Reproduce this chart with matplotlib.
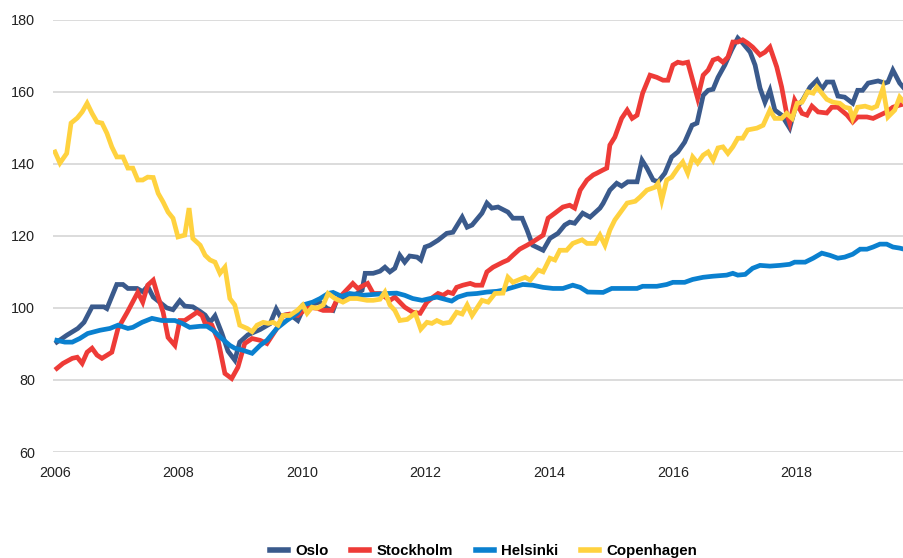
import matplotlib
matplotlib.use("Agg")
import matplotlib.pyplot as plt

plt.rcParams['font.family'] = ['Liberation Sans', 'DejaVu Sans']

# index values (decimal year, value)
oslo_t = [2006.03, 2006.19, 2006.37, 2006.47, 2006.60, 2006.79, 2006.84, 2007.00, 2007.10, 2007.18,
          2007.33, 2007.42, 2007.50, 2007.59, 2007.70, 2007.81, 2007.91, 2008.02, 2008.10, 2008.23,
          2008.35, 2008.43, 2008.51, 2008.59, 2008.70, 2008.80, 2008.91, 2008.99, 2009.12, 2009.32,
          2009.48, 2009.58, 2009.64, 2009.80, 2009.93, 2010.01, 2010.08, 2010.29, 2010.40, 2010.50,
          2010.56, 2010.72, 2010.89, 2010.97, 2011.02, 2011.15, 2011.26, 2011.34, 2011.42, 2011.50,
          2011.58, 2011.66, 2011.74, 2011.86, 2011.92, 2011.99, 2012.07, 2012.20, 2012.34, 2012.44,
          2012.59, 2012.67, 2012.75, 2012.91, 2012.99, 2013.07, 2013.17, 2013.33, 2013.41, 2013.56,
          2013.64, 2013.73, 2013.90, 2014.01, 2014.14, 2014.25, 2014.33, 2014.41, 2014.54, 2014.66,
          2014.82, 2014.87, 2014.98, 2015.09, 2015.17, 2015.27, 2015.42, 2015.50, 2015.58, 2015.68,
          2015.76, 2015.87, 2015.98, 2016.08, 2016.19, 2016.31, 2016.39, 2016.49, 2016.57, 2016.65,
          2016.73, 2016.84, 2016.95, 2017.05, 2017.13, 2017.25, 2017.33, 2017.41, 2017.49, 2017.57,
          2017.65, 2017.76, 2017.89, 2017.97, 2018.10, 2018.22, 2018.33, 2018.41, 2018.49, 2018.59,
          2018.67, 2018.78, 2018.91, 2018.99, 2019.07, 2019.16, 2019.32, 2019.43, 2019.48, 2019.56,
          2019.67, 2019.74]
oslo_v = [90.5, 92.4, 94.3, 96.0, 100.3, 100.3, 99.8, 106.5, 106.5, 105.4,
          105.4, 104.5, 106.0, 103.0, 101.5, 100.0, 99.5, 102.0, 100.5, 100.3,
          99.0, 98.0, 96.0, 97.8, 93.0, 88.0, 85.5, 90.5, 92.5, 94.0,
          95.6, 99.7, 97.8, 98.2, 96.5, 99.5, 100.8, 101.6, 99.9, 99.3,
          102.1, 103.0, 104.0, 104.9, 109.6, 109.6, 110.2, 111.3, 110.0, 111.0,
          114.6, 112.7, 114.4, 114.1, 113.3, 116.9, 117.4, 118.8, 120.7, 121.0,
          125.2, 122.4, 123.0, 126.3, 129.1, 127.7, 128.0, 126.6, 124.9, 124.9,
          121.6, 117.4, 116.0, 119.3, 120.7, 123.0, 123.8, 123.5, 126.3, 125.2,
          127.7, 129.0, 132.7, 134.6, 133.8, 135.0, 135.0, 141.0, 138.8, 135.5,
          135.0, 137.4, 141.9, 143.3, 146.0, 150.7, 151.3, 159.0, 160.4, 160.7,
          164.0, 167.4, 171.6, 174.9, 173.5, 171.0, 167.4, 161.0, 157.1, 160.4,
          154.9, 153.5, 149.9, 154.9, 157.7, 161.3, 163.2, 160.7, 162.7, 162.7,
          158.8, 158.5, 156.8, 160.4, 160.4, 162.4, 163.0, 162.4, 162.7, 166.0,
          162.4, 161.0]

stockholm_t = [2006.03, 2006.13, 2006.28, 2006.36, 2006.44, 2006.52, 2006.60, 2006.68, 2006.76, 2006.92,
               2007.02, 2007.17, 2007.34, 2007.42, 2007.50, 2007.59, 2007.67, 2007.75, 2007.83, 2007.94,
               2008.02, 2008.10, 2008.22, 2008.30, 2008.38, 2008.43, 2008.54, 2008.64, 2008.75, 2008.86,
               2008.96, 2009.07, 2009.19, 2009.32, 2009.43, 2009.59, 2009.69, 2009.80, 2009.93, 2010.09,
               2010.24, 2010.34, 2010.48, 2010.56, 2010.82, 2010.90, 2011.06, 2011.15, 2011.26, 2011.42,
               2011.50, 2011.58, 2011.66, 2011.79, 2011.91, 2012.02, 2012.12, 2012.20, 2012.28, 2012.36,
               2012.44, 2012.50, 2012.60, 2012.72, 2012.80, 2012.91, 2012.99, 2013.09, 2013.25, 2013.33,
               2013.41, 2013.52, 2013.64, 2013.73, 2013.82, 2013.90, 2013.98, 2014.09, 2014.22, 2014.33,
               2014.41, 2014.50, 2014.61, 2014.71, 2014.77, 2014.87, 2014.93, 2014.98, 2015.06, 2015.17,
               2015.26, 2015.34, 2015.42, 2015.51, 2015.63, 2015.74, 2015.84, 2015.92, 2016.00, 2016.08,
               2016.16, 2016.24, 2016.32, 2016.40, 2016.49, 2016.57, 2016.65, 2016.73, 2016.81, 2016.89,
               2016.97, 2017.05, 2017.13, 2017.21, 2017.29, 2017.41, 2017.49, 2017.57, 2017.68, 2017.76,
               2017.84, 2017.89, 2017.97, 2018.09, 2018.17, 2018.25, 2018.35, 2018.49, 2018.57, 2018.67,
               2018.82, 2018.91, 2018.99, 2019.14, 2019.24, 2019.35, 2019.46, 2019.56, 2019.67, 2019.74]
stockholm_v = [83.2, 84.6, 86.0, 86.3, 84.6, 87.7, 88.8, 86.9, 86.0, 87.7,
               94.3, 98.8, 104.3, 101.6, 106.3, 107.7, 103.0, 98.8, 91.8, 89.6,
               96.5, 96.5, 97.9, 98.8, 97.9, 95.7, 95.2, 91.0, 81.8, 80.4,
               83.5, 90.1, 91.5, 91.0, 90.1, 94.3, 97.9, 98.3, 97.9, 100.2,
               99.9, 99.3, 99.3, 102.1, 106.8, 105.4, 106.8, 104.0, 104.0, 102.1,
               103.0, 101.6, 100.2, 98.8, 98.5, 101.6, 103.0, 104.0, 103.5, 104.4,
               104.0, 105.7, 106.3, 106.8, 106.3, 106.3, 110.0, 111.3, 112.7, 113.3,
               114.6, 116.3, 117.4, 118.3, 119.3, 120.2, 124.9, 126.3, 128.0, 128.5,
               127.7, 132.7, 135.5, 136.9, 137.4, 138.3, 138.8, 145.2, 147.4, 152.6,
               154.9, 152.6, 153.5, 159.6, 164.6, 164.0, 163.2, 163.2, 167.4, 168.2,
               167.9, 168.2, 163.2, 158.2, 164.6, 166.0, 168.8, 169.3, 168.2, 169.6,
               173.8, 173.8, 174.4, 173.5, 172.4, 170.2, 171.0, 172.4, 166.9, 161.3,
               154.0, 151.3, 157.7, 154.0, 153.5, 156.0, 154.4, 154.1, 155.7, 155.7,
               153.5, 151.6, 153.0, 153.0, 152.6, 153.5, 154.4, 155.7, 156.3, 156.6]

helsinki_t = [2006.03, 2006.16, 2006.28, 2006.40, 2006.53, 2006.73, 2006.89, 2007.02, 2007.18, 2007.26,
              2007.41, 2007.57, 2007.73, 2007.94, 2008.06, 2008.18, 2008.35, 2008.46, 2008.56, 2008.70,
              2008.83, 2008.91, 2009.03, 2009.19, 2009.32, 2009.43, 2009.59, 2009.75, 2009.92, 2010.01,
              2010.17, 2010.29, 2010.42, 2010.50, 2010.64, 2010.77, 2010.98, 2011.21, 2011.37, 2011.53,
              2011.66, 2011.79, 2011.94, 2012.07, 2012.18, 2012.31, 2012.42, 2012.52, 2012.67, 2012.83,
              2012.99, 2013.15, 2013.25, 2013.41, 2013.57, 2013.73, 2013.90, 2014.06, 2014.22, 2014.38,
              2014.50, 2014.62, 2014.87, 2015.01, 2015.19, 2015.42, 2015.51, 2015.74, 2015.90, 2016.00,
              2016.19, 2016.32, 2016.49, 2016.65, 2016.87, 2016.97, 2017.05, 2017.17, 2017.29, 2017.41,
              2017.57, 2017.73, 2017.89, 2017.97, 2018.14, 2018.27, 2018.41, 2018.54, 2018.67, 2018.78,
              2018.91, 2019.03, 2019.14, 2019.24, 2019.35, 2019.46, 2019.56, 2019.67, 2019.74]
helsinki_v = [91.0, 90.5, 90.5, 91.5, 92.9, 93.8, 94.3, 95.2, 94.3, 94.6,
              96.0, 97.1, 96.5, 96.5, 95.7, 94.6, 94.9, 94.9, 93.8, 91.5,
              89.6, 88.8, 88.3, 87.4, 89.6, 91.0, 94.3, 96.5, 98.5, 100.8,
              101.6, 102.6, 104.0, 104.3, 103.2, 104.0, 103.5, 103.8, 104.0, 104.1,
              103.5, 102.6, 102.1, 102.6, 103.0, 102.4, 101.9, 103.0, 103.8, 104.0,
              104.4, 104.6, 104.9, 105.7, 106.5, 106.3, 105.7, 105.4, 105.4, 106.3,
              105.7, 104.4, 104.3, 105.4, 105.4, 105.4, 106.0, 106.0, 106.5, 107.1,
              107.1, 107.9, 108.5, 108.8, 109.1, 109.6, 109.1, 109.3, 111.0, 111.8,
              111.6, 111.8, 112.1, 112.7, 112.7, 113.8, 115.2, 114.6, 113.8, 114.1,
              114.9, 116.3, 116.3, 116.9, 117.7, 117.7, 116.9, 116.6, 116.3]

copenhagen_t = [2006.00, 2006.08, 2006.19, 2006.26, 2006.36, 2006.44, 2006.52, 2006.60, 2006.68, 2006.76,
                2006.84, 2006.92, 2007.00, 2007.10, 2007.18, 2007.26, 2007.34, 2007.42, 2007.50, 2007.59,
                2007.67, 2007.75, 2007.83, 2007.91, 2007.99, 2008.10, 2008.17, 2008.23, 2008.35, 2008.43,
                2008.51, 2008.59, 2008.67, 2008.75, 2008.83, 2008.91, 2008.99, 2009.11, 2009.19, 2009.27,
                2009.37, 2009.45, 2009.53, 2009.61, 2009.69, 2009.80, 2009.92, 2010.01, 2010.08, 2010.16,
                2010.24, 2010.34, 2010.42, 2010.53, 2010.66, 2010.77, 2010.89, 2011.05, 2011.15, 2011.26,
                2011.34, 2011.42, 2011.50, 2011.58, 2011.70, 2011.83, 2011.92, 2012.02, 2012.10, 2012.18,
                2012.28, 2012.39, 2012.50, 2012.59, 2012.67, 2012.75, 2012.91, 2013.01, 2013.12, 2013.25,
                2013.33, 2013.41, 2013.52, 2013.61, 2013.69, 2013.82, 2013.90, 2014.01, 2014.09, 2014.17,
                2014.28, 2014.38, 2014.53, 2014.61, 2014.74, 2014.82, 2014.90, 2014.98, 2015.06, 2015.14,
                2015.26, 2015.39, 2015.47, 2015.58, 2015.71, 2015.76, 2015.82, 2015.90, 2015.98, 2016.08,
                2016.16, 2016.24, 2016.32, 2016.40, 2016.49, 2016.57, 2016.65, 2016.73, 2016.81, 2016.89,
                2016.97, 2017.05, 2017.13, 2017.21, 2017.36, 2017.46, 2017.57, 2017.65, 2017.76, 2017.84,
                2017.93, 2018.01, 2018.09, 2018.18, 2018.27, 2018.33, 2018.41, 2018.49, 2018.59, 2018.70,
                2018.78, 2018.86, 2018.91, 2018.99, 2019.11, 2019.22, 2019.30, 2019.40, 2019.48, 2019.59,
                2019.67, 2019.74]
copenhagen_v = [143.3, 140.2, 142.9, 151.3, 152.7, 154.4, 156.8, 154.0, 151.6, 151.3,
                148.5, 144.7, 141.9, 141.9, 138.8, 138.8, 135.5, 135.5, 136.3, 136.2,
                131.8, 129.4, 126.6, 124.9, 119.7, 120.2, 127.7, 119.3, 117.4, 114.6,
                113.3, 112.7, 109.6, 111.3, 102.6, 100.8, 95.2, 94.3, 93.4, 95.2,
                96.0, 95.7, 96.0, 95.2, 97.9, 97.9, 99.3, 100.8, 98.5, 100.2,
                99.9, 100.8, 104.0, 102.6, 101.6, 102.6, 102.6, 102.1, 102.1, 102.4,
                104.4, 100.8, 99.3, 96.5, 96.8, 98.5, 94.1, 96.0, 95.7, 96.5,
                95.7, 96.0, 98.8, 98.3, 100.8, 97.9, 102.1, 101.6, 104.0, 104.1,
                108.5, 107.1, 107.9, 108.5, 107.7, 110.5, 110.0, 113.8, 113.3, 116.0,
                116.0, 117.9, 118.9, 117.9, 117.9, 120.2, 117.4, 121.6, 124.4, 126.3,
                129.1, 129.6, 130.8, 132.7, 133.5, 134.6, 129.9, 135.5, 136.3, 138.8,
                140.5, 137.4, 141.9, 140.2, 142.4, 143.3, 141.0, 144.4, 144.7, 142.9,
                144.7, 147.1, 147.1, 149.4, 149.9, 150.7, 154.9, 152.6, 152.6, 154.0,
                152.6, 156.8, 157.1, 160.0, 159.6, 161.3, 159.6, 157.9, 157.1, 156.8,
                155.7, 155.4, 152.6, 155.7, 156.0, 155.4, 156.0, 161.0, 153.0, 154.9,
                158.5, 157.1]

names = ['Oslo', 'Stockholm', 'Helsinki', 'Copenhagen']
colors = ['#3A5A8C', '#EE3B37', '#0A80CF', '#FFD23F']
year_ticks = [2006, 2008, 2010, 2012, 2014, 2016, 2018]
value_ticks = [60, 80, 100, 120, 140, 160, 180]

fig = plt.figure(figsize=(9.04, 5.58), dpi=100)
ax = fig.add_axes([53 / 904, 1 - 452 / 558, 1 - 53 / 904, (452 - 19.7) / 558])

series = [(oslo_t, oslo_v), (stockholm_t, stockholm_v),
          (helsinki_t, helsinki_v), (copenhagen_t, copenhagen_v)]
for (t, v), name, c in zip(series, names, colors):
    ax.plot(t, v, color=c, lw=3.4, label=name, solid_joinstyle='miter')

ax.set_xlim(2005.968, 2019.74)
ax.set_ylim(60, 180)
ax.set_xticks(year_ticks)
ax.set_yticks(value_ticks)
ax.tick_params(length=0, labelsize=10.4, colors='#222222')
ax.tick_params(axis='y', pad=13)
ax.tick_params(axis='x', pad=10)
ax.grid(axis='y', color='#D9D9D9', lw=1.3)
ax.set_axisbelow(True)
for s in ax.spines.values():
    s.set_visible(False)

leg = fig.legend(loc='lower center', bbox_to_anchor=(0.535, -0.024), ncol=4, frameon=False,
                 handlelength=1.2, handletextpad=0.5, columnspacing=1.5,
                 prop={'weight': 'bold', 'size': 10.8})
for line in leg.get_lines():
    line.set_linewidth(4)

fig.savefig('out.png', dpi=100)
